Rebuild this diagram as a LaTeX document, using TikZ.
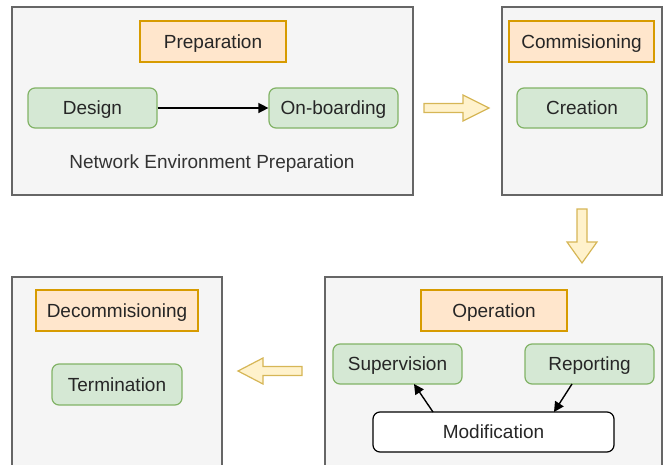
\documentclass[tikz,border=0pt]{standalone}
\usepackage{fontspec}
\setmainfont{Liberation Sans}
\usetikzlibrary{arrows.meta}
\definecolor{panelfill}{HTML}{F5F5F5}
\definecolor{panelline}{HTML}{666666}
\definecolor{phasefill}{HTML}{FFE6CC}
\definecolor{phaseline}{HTML}{D79B00}
\definecolor{taskfill}{HTML}{D5E8D4}
\definecolor{taskline}{HTML}{82B366}
\definecolor{flowfill}{HTML}{FFF2CC}
\definecolor{flowline}{HTML}{D6B656}
\definecolor{labeltext}{HTML}{333333}
\tikzset{
  lbl/.style={font=\fontsize{19}{22}\selectfont, text=black!85,
    text height=13.6pt, text depth=0pt},
  panel/.style={draw=panelline, fill=panelfill, line width=1.3pt},
  phase/.style={lbl, draw=phaseline, fill=phasefill, line width=1.2pt, inner sep=0pt},
  task/.style={lbl, draw=taskline, fill=taskfill, line width=1.2pt, rounded corners=7pt,
    inner sep=0pt},
  action/.style={lbl, draw=black, fill=white, line width=1.2pt, rounded corners=7pt,
    inner sep=0pt},
  flow/.style={draw=flowline, fill=flowfill, line width=1.2pt, line join=miter},
  link/.style={draw=black, line width=1.4pt, -{Triangle[length=10pt,width=10pt]}},
}
\begin{document}
\begin{tikzpicture}[x=1pt, y=-1pt]
\useasboundingbox (0,0) rectangle (665,464);
\clip (0,0) rectangle (665,464);

% Phase panels
\draw[panel] (12,7) rectangle (413,195);
\draw[panel] (502,7) rectangle (662,195);
\draw[panel] (325,277) rectangle (662,480);
\draw[panel] (12,277) rectangle (222,480);

% Preparation
\node[phase, minimum width=146pt, minimum height=41pt] (prep) at (213,41.5) {Preparation};
\node[task, minimum width=129pt, minimum height=40pt] (design) at (92.5,108) {Design};
\node[task, minimum width=129pt, minimum height=40pt] (onboard) at (333.5,108) {On-boarding};
\node[lbl, text=labeltext] (envprep) at (212,162) {Network Environment Preparation};
\draw[link] (design.east) -- (onboard.west);

% Commissioning
\node[phase, minimum width=145pt, minimum height=41pt] (comm) at (581.5,41.5) {Commisioning};
\node[task, minimum width=130pt, minimum height=40pt] (create) at (582,108) {Creation};

% Operation
\node[phase, minimum width=146pt, minimum height=41pt] (oper) at (494,310.5) {Operation};
\node[task, minimum width=129pt, minimum height=40pt] (superv) at (397.5,364) {Supervision};
\node[task, minimum width=129pt, minimum height=40pt] (report) at (589.5,364) {Reporting};
\node[action, minimum width=241pt, minimum height=40pt] (modif) at (493.5,432) {Modification};
\coordinate (modA) at (433,412);
\coordinate (supA) at (414,384);
\coordinate (repA) at (572,384);
\coordinate (modB) at (554,412);
\draw[link] (modA) -- (supA);
\draw[link] (repA) -- (modB);

% Decommissioning
\node[phase, minimum width=162pt, minimum height=41pt] (decomm) at (117,310.5) {Decommisioning};
\node[task, minimum width=130pt, minimum height=41pt] (term) at (117,384.5) {Termination};

% Flow arrows between phases
\draw[flow] (424,103.5) -- (463,103.5) -- (463,95) -- (489,108) -- (463,121) -- (463,112.5) -- (424,112.5) -- cycle;
\draw[flow] (577,209) -- (587,209) -- (587,242) -- (597,242) -- (582,263) -- (567,242) -- (577,242) -- cycle;
\draw[flow] (302,366.5) -- (263,366.5) -- (263,358) -- (238,371) -- (263,384) -- (263,375.5) -- (302,375.5) -- cycle;
\end{tikzpicture}
\end{document}
